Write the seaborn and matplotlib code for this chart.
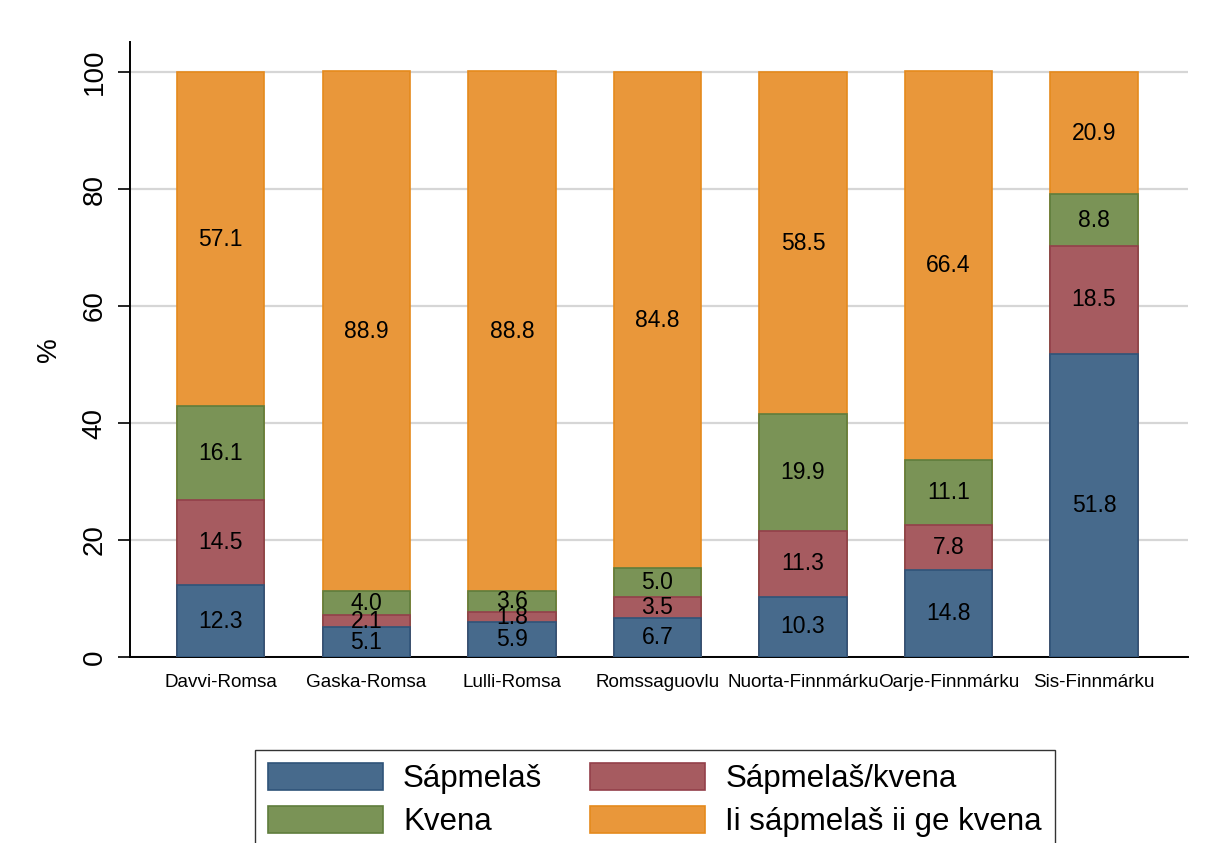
import numpy as np
import pandas as pd
import matplotlib
matplotlib.use("Agg")
import matplotlib.pyplot as plt
import seaborn as sns
from matplotlib.patches import Patch

regions = ["Davvi-Romsa", "Gaska-Romsa", "Lulli-Romsa", "Romssaguovlu",
           "Nuorta-Finnmárku", "Oarje-Finnmárku", "Sis-Finnmárku"]
sapmelas = [12.3, 5.1, 5.9, 6.7, 10.3, 14.8, 51.8]
sapmelas_kvena = [14.5, 2.1, 1.8, 3.5, 11.3, 7.8, 18.5]
kvena = [16.1, 4.0, 3.6, 5.0, 19.9, 11.1, 8.8]
ii = [57.1, 88.9, 88.8, 84.8, 58.5, 66.4, 20.9]
series_names = ["Sápmelaš", "Sápmelaš/kvena", "Kvena", "Ii sápmelaš ii ge kvena"]
yticks = [0, 20, 40, 60, 80, 100]

fills = ["#476a8c", "#a65b60", "#7a9356", "#e9973a"]
edges = ["#2f5479", "#93404a", "#5f7d3c", "#e58a1c"]

sns.set_style("white")
plt.rcParams['font.family'] = ['Liberation Sans', 'DejaVu Sans']
plt.rcParams['text.color'] = 'black'
plt.rcParams['axes.labelcolor'] = 'black'
plt.rcParams['xtick.color'] = 'black'
plt.rcParams['ytick.color'] = 'black'

fig = plt.figure(figsize=(12.09, 8.43), dpi=100)
ax = fig.add_axes([130/1209, 1-657/843, (1188-130)/1209, (657-42)/843])

series = [sapmelas, sapmelas_kvena, kvena, ii]
arr = np.array(series)
cum = np.cumsum(arr, axis=0)
bottoms = cum - arr

# draw cumulative bars, largest first
for i in range(3, -1, -1):
    df = pd.DataFrame({"region": regions, "value": cum[i]})
    sns.barplot(data=df, x="region", y="value", order=regions, color=fills[i],
                saturation=1, width=0.6, edgecolor=edges[i], linewidth=1.2,
                ax=ax, zorder=3)

# labels
for i in range(4):
    for j in range(len(regions)):
        ax.text(j, bottoms[i, j] + arr[i, j] / 2, f"{arr[i, j]:.1f}",
                ha="center", va="center", fontsize=16.5, color="black", zorder=5)

ax.set_xlim(-0.624, 6.646)
ax.set_ylim(0, 105.13)
ax.set_yticks(yticks)
ax.set_yticklabels([str(t) for t in yticks], rotation=90, va="center", fontsize=20)
ax.yaxis.grid(True, color="#d6d6d6", linewidth=1.6, zorder=0)
ax.set_axisbelow(True)
ax.tick_params(axis="y", length=9, width=1.2, color="black", pad=7, left=True)
ax.tick_params(axis="x", length=0, pad=12, labelsize=13.6)
for s in ["top", "right"]:
    ax.spines[s].set_visible(False)
for s in ["left", "bottom"]:
    ax.spines[s].set_color("black")
    ax.spines[s].set_linewidth(1.4)
ax.set_xlabel("")
ax.set_ylabel("%", fontsize=20, labelpad=14)

order = [0, 2, 1, 3]
handles = [Patch(facecolor=fills[i], edgecolor=edges[i], linewidth=1.2) for i in order]
labels = [series_names[i] for i in order]
leg = fig.legend(handles, labels, loc="upper center",
                 bbox_to_anchor=(655/1209, 1-750/843), ncol=2, fontsize=22.5,
                 frameon=True, fancybox=False, edgecolor="black",
                 handlelength=3.68, handleheight=0.95, handletextpad=0.64,
                 columnspacing=1.54, labelspacing=0.36, borderpad=0.42,
                 borderaxespad=0)
leg.get_frame().set_linewidth(1.0)

fig.savefig("out.png", dpi=100, facecolor="white")
